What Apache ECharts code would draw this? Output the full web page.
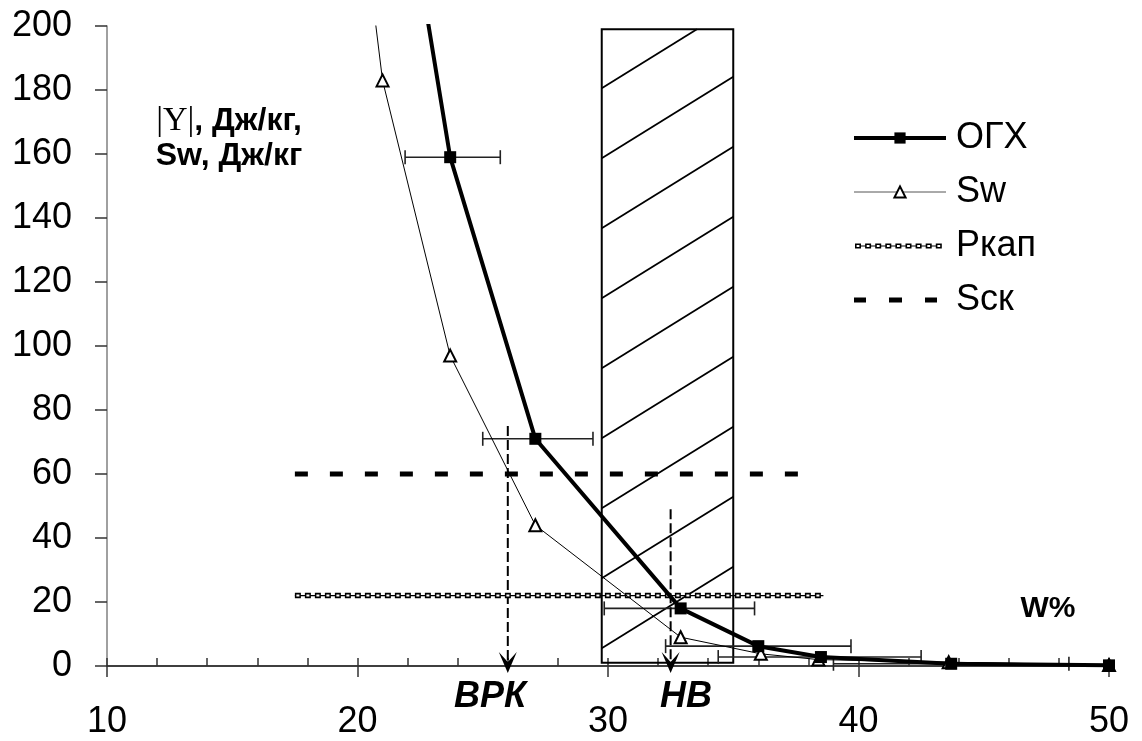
<!DOCTYPE html>
<html>
<head>
<meta charset="utf-8">
<script src="https://cdn.jsdelivr.net/npm/echarts@6/dist/echarts.min.js"></script>
<style>
  html, body { margin: 0; padding: 0; background: #fff; }
  #chart { width: 1142px; height: 741px; }
</style>
</head>
<body>
<div id="chart"></div>
<script>
// ОГХ (first point lies above the axis and is clipped, as in the original)
const ogxW = [22.0, 23.7, 27.1, 32.9, 36.0, 38.5, 43.7, 50.0];
const ogxY = [240, 159, 71, 18, 6.2, 2.8, 0.7, 0.2];
// horizontal error bars for measured ОГХ points
const errW = [23.8, 27.2, 32.85, 36.0, 38.45, 43.7];
const errY = [159, 71, 18, 6.2, 2.8, 0.7];
const errHalf = [1.9, 2.2, 3.0, 3.7, 4.05, 4.7];
// Sw
const swW = [20.5, 21.0, 23.7, 27.1, 32.9, 36.1, 38.4, 43.6, 50.0];
const swY = [215, 183, 97, 44, 9, 3.8, 2.0, 1.2, 0.3];
// horizontal levels
const pkapW = [17.5, 38.6];
const pkapY = 22;
const sskW = [17.5, 38.0];
const sskY = 60;
// hatched zone
const zoneW = [29.75, 35.0];
const zoneY = [1, 199];
// vertical arrows
const arrowW = [26.0, 32.5];
const arrowTop = [75, 49];

const font = '"Liberation Sans", Arial, sans-serif';
const chart = echarts.init(document.getElementById('chart'));

const pairs = (xs, ys) => xs.map((x, i) => [x, ys[i]]);
const level = (xs, y) => xs.map(x => [x, y]);

// legend icon: chain of hollow squares
let chainPath = 'path://M0 0L0 0M92 14L92 14';
for (let k = 0; k < 9; k++) {
  const x = 1 + k * 10.1;
  chainPath += 'M' + x + ' 4.5h6v5h-6Z';
  chainPath += 'M' + (x + 1.6) + ' 6.1v1.8h2.8v-1.8Z';
  if (k < 8) chainPath += 'M' + (x + 6) + ' 6.4h4.1v1.2h-4.1Z';
}
// legend icon: thick dashes
const dashPath = 'path://M0 0L0 0M92 14L92 14M0 4.5h12v5h-12ZM35 4.5h13v5h-13ZM71 4.5h12v5h-12Z';

const option = {
  animation: false,
  grid: { left: 107, right: 33, top: 26, bottom: 75, containLabel: false },
  xAxis: [
    {
      type: 'value', min: 10, max: 50, interval: 10, position: 'bottom',
      axisLine: { show: true, onZero: false, lineStyle: { color: '#000', width: 1.5 } },
      axisTick: { show: true, inside: true, length: 8, lineStyle: { color: '#333', width: 1.5 } },
      minorTick: { show: true, splitNumber: 5, length: 8, lineStyle: { color: '#333', width: 1.5 } },
      splitLine: { show: false },
      axisLabel: { fontSize: 36, color: '#000', fontFamily: font, margin: 38 }
    },
    {
      type: 'value', min: 10, max: 50, interval: 10, position: 'bottom',
      axisLine: { show: false },
      axisTick: { show: true, inside: false, length: 11, lineStyle: { color: '#333', width: 1.5 } },
      splitLine: { show: false },
      axisLabel: { show: false }
    }
  ],
  yAxis: {
    type: 'value', min: 0, max: 200, interval: 20,
    axisLine: { show: true, lineStyle: { color: '#808080', width: 1.5 } },
    axisTick: { show: true, length: 12, lineStyle: { color: '#333', width: 1.5 } },
    splitLine: { show: false },
    axisLabel: { fontSize: 36, color: '#000', fontFamily: font, margin: 35 }
  },
  legend: {
    orient: 'vertical', left: 847, top: 113,
    data: [
      { name: 'ОГХ', lineStyle: { width: 4 } },
      { name: 'Sw', lineStyle: { width: 1, color: '#555' } },
      { name: 'Ркап', icon: chainPath },
      { name: 'Sск', icon: dashPath }
    ],
    itemWidth: 92, itemHeight: 14, itemGap: 14,
    selectedMode: false,
    textStyle: { fontSize: 36, color: '#000', fontFamily: font, lineHeight: 40, padding: [0, 0, 0, 5] }
  },
  graphic: [
    {
      type: 'text', x: 229, y: 104,
      style: {
        text: '{g||Υ|}{b|, Дж/кг,}\n{b|Sw, Дж/кг}',
        rich: {
          g: { fontFamily: '"Liberation Serif", serif', fontSize: 34, fontWeight: 'normal', lineHeight: 35 },
          b: { fontFamily: font, fontSize: 32, fontWeight: 'bold', lineHeight: 35 }
        },
        align: 'center', verticalAlign: 'top', fill: '#000'
      }
    },
    {
      type: 'text', x: 1048, y: 609,
      style: { text: 'W%', font: 'bold 30px "Liberation Sans", Arial, sans-serif', align: 'center', verticalAlign: 'middle', fill: '#000' }
    },
    {
      type: 'text', x: 490, y: 697,
      style: { text: 'ВРК', font: 'italic bold 36px "Liberation Sans", Arial, sans-serif', align: 'center', verticalAlign: 'middle', fill: '#000' }
    },
    {
      type: 'text', x: 686, y: 697,
      style: { text: 'НВ', font: 'italic bold 36px "Liberation Sans", Arial, sans-serif', align: 'center', verticalAlign: 'middle', fill: '#000' }
    }
  ],
  series: [
    {
      // hatched zone
      type: 'custom', name: 'zone', silent: true,
      data: [[zoneW[0], zoneW[1], zoneY[0], zoneY[1]]],
      encode: { x: [0, 1], y: [2, 3] },
      renderItem: function (params, api) {
        const tl = api.coord([api.value(0), api.value(3)]);
        const br = api.coord([api.value(1), api.value(2)]);
        const x0 = tl[0], y0 = tl[1], x1 = br[0], y1 = br[1];
        const w = x1 - x0;
        const slope = 0.62, step = 70;
        const children = [{
          type: 'rect', shape: { x: x0, y: y0, width: w, height: y1 - y0 },
          style: { fill: 'transparent', stroke: '#000', lineWidth: 2 }
        }];
        for (let c = y0 + 59; c < y1 - 10; c += step) {
          let xb = x1, yb = c - slope * w;
          if (yb < y0) { xb = x0 + (c - y0) / slope; yb = y0; }
          children.push({
            type: 'line', shape: { x1: x0, y1: c, x2: xb, y2: yb },
            style: { stroke: '#000', lineWidth: 1.8 }
          });
        }
        return { type: 'group', children: children };
      }
    },
    {
      name: 'pkap-base', type: 'line', data: level(pkapW, pkapY), symbol: 'none', silent: true,
      lineStyle: { color: '#000', width: 1.2 }
    },
    {
      name: 'Ркап', type: 'line', data: level(pkapW, pkapY), symbol: 'none', silent: true,
      itemStyle: { color: '#000' },
      lineStyle: { color: '#000', width: 5.5, type: [6, 4] }
    },
    {
      name: 'pkap-inner', type: 'line', data: level(pkapW, pkapY), symbol: 'none', silent: true,
      lineStyle: { color: '#fff', width: 2, type: [3, 7], dashOffset: -1.5 }
    },
    {
      name: 'Sск', type: 'line', data: level(sskW, sskY), symbol: 'none', silent: true,
      itemStyle: { color: '#000' },
      lineStyle: { color: '#000', width: 5, type: [13, 22] }
    },
    {
      name: 'Sw', type: 'line', data: pairs(swW, swY),
      symbol: 'emptyTriangle', symbolSize: 12, silent: true,
      itemStyle: { color: '#000', borderWidth: 1.3 },
      lineStyle: { color: '#000', width: 1 }
    },
    {
      name: 'ОГХ', type: 'line', data: pairs(ogxW, ogxY),
      symbol: 'rect', symbolSize: 12, silent: true,
      itemStyle: { color: '#000' },
      lineStyle: { color: '#000', width: 4 }
    },
    {
      // horizontal error bars
      type: 'custom', name: 'err', silent: true,
      data: errW.map((w, i) => [w, errY[i], errHalf[i]]),
      encode: { x: 0, y: 1 },
      renderItem: function (params, api) {
        const c = api.value(0), y = api.value(1), h = api.value(2);
        const p1 = api.coord([c - h, y]);
        const p2 = api.coord([c + h, y]);
        const cap = 7;
        const st = { stroke: '#222', lineWidth: 1.6 };
        return {
          type: 'group', children: [
            { type: 'line', shape: { x1: p1[0], y1: p1[1], x2: p2[0], y2: p2[1] }, style: st },
            { type: 'line', shape: { x1: p1[0], y1: p1[1] - cap, x2: p1[0], y2: p1[1] + cap }, style: st },
            { type: 'line', shape: { x1: p2[0], y1: p2[1] - cap, x2: p2[0], y2: p2[1] + cap }, style: st }
          ]
        };
      }
    },
    {
      // dashed arrows down to the W axis
      type: 'custom', name: 'arrows', silent: true,
      data: arrowW.map((w, i) => [w, arrowTop[i]]),
      encode: { x: 0, y: 1 },
      renderItem: function (params, api) {
        const top = api.coord([api.value(0), api.value(1)]);
        const base = api.coord([api.value(0), 0]);
        const x = top[0];
        const tip = base[1] + 7;
        return {
          type: 'group', children: [
            {
              type: 'line', shape: { x1: x, y1: top[1], x2: x, y2: tip - 12 },
              style: { stroke: '#000', lineWidth: 2, lineDash: [10, 4] }
            },
            {
              type: 'polygon',
              shape: { points: [[x, tip], [x - 9, tip - 21], [x, tip - 11], [x + 9, tip - 21]] },
              style: { fill: '#000' }
            }
          ]
        };
      }
    }
  ]
};

chart.setOption(option);
</script>
</body>
</html>
